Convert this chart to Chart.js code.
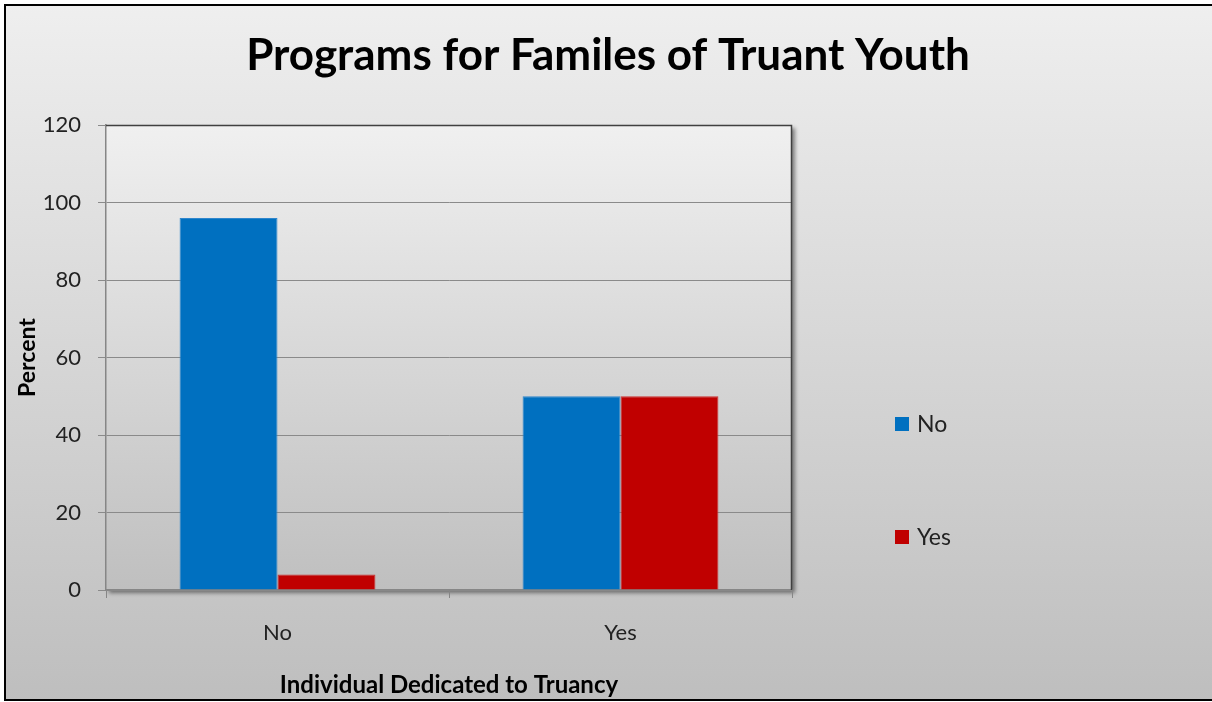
<!DOCTYPE html>
<html>
<head>
<meta charset="utf-8">
<script src="https://cdn.jsdelivr.net/npm/chart.js@4"></script>
<style>
  html, body { margin: 0; padding: 0; background: #fff; }
  #wrap { width: 1212px; height: 702px; }
</style>
</head>
<body>
<div id="wrap"><canvas id="myChart" width="1212" height="702"></canvas></div>
<script>
var categories = ['No', 'Yes'];
var seriesNames = ['No', 'Yes'];
var seriesNo = [96, 50];
var seriesYes = [4, 50];
var colors = ['#0070C0', '#C00000'];

var FONT = 'Lato, "Open Sans", sans-serif';

// background, frame, plot area fill + shadow, title and legend
var decor = {
    id: 'decor',
    beforeDraw: function (chart) {
        var c = chart.ctx;
        var a = chart.chartArea;
        c.save();
        var bg = c.createLinearGradient(0, 0, 0, chart.height);
        bg.addColorStop(0, '#efefef');
        bg.addColorStop(1, '#bebebe');
        c.fillStyle = bg;
        c.fillRect(5, 5, chart.width - 5, chart.height - 7);

        // plot area with soft shadow
        c.save();
        c.shadowColor = 'rgba(0,0,0,0.45)';
        c.shadowBlur = 4;
        c.shadowOffsetX = 3;
        c.shadowOffsetY = 3;
        var pg = c.createLinearGradient(0, a.top, 0, a.bottom);
        pg.addColorStop(0, '#f0f0f0');
        pg.addColorStop(1, '#bfbfbf');
        c.fillStyle = pg;
        c.fillRect(a.left, a.top, a.right - a.left, a.bottom - a.top);
        c.restore();

        // outer frame
        c.strokeStyle = '#000';
        c.lineWidth = 2;
        c.beginPath();
        c.moveTo(chart.width, 5);
        c.lineTo(5, 5);
        c.lineTo(5, chart.height - 2);
        c.lineTo(chart.width, chart.height - 2);
        c.stroke();

        // title
        c.fillStyle = '#000';
        c.font = 'bold 44px ' + FONT;
        c.textAlign = 'center';
        c.textBaseline = 'middle';
        c.fillText('Programs for Familes of Truant Youth', 608, 56);
        c.restore();
    },
    afterDatasetsDraw: function (chart) {
        var c = chart.ctx;
        var a = chart.chartArea;
        c.save();
        // dark plot border on top and right
        c.strokeStyle = '#404040';
        c.lineWidth = 1.5;
        c.beginPath();
        c.moveTo(a.left, a.top + 0.5);
        c.lineTo(a.right - 0.5, a.top + 0.5);
        c.lineTo(a.right - 0.5, a.bottom);
        c.stroke();

        // legend
        var ys = [424, 537];
        c.font = '23px ' + FONT;
        c.textBaseline = 'middle';
        c.textAlign = 'left';
        chart.data.datasets.forEach(function (ds, i) {
            c.fillStyle = ds.backgroundColor;
            c.fillRect(895, ys[i] - 7, 14, 14);
            c.fillStyle = '#222';
            c.fillText(ds.label, 917, ys[i] + 1);
        });
        c.restore();
    }
};

var ctx = document.getElementById('myChart').getContext('2d');
var myChart = new Chart(ctx, {
    type: 'bar',
    data: {
        labels: categories,
        datasets: [{
            label: seriesNames[0],
            data: seriesNo,
            backgroundColor: colors[0],
            borderColor: '#2f86cc',
            borderWidth: 1,
            categoryPercentage: 0.571,
            barPercentage: 1
        }, {
            label: seriesNames[1],
            data: seriesYes,
            backgroundColor: colors[1],
            borderColor: '#cc3030',
            borderWidth: 1,
            categoryPercentage: 0.571,
            barPercentage: 1
        }]
    },
    plugins: [decor],
    options: {
        responsive: false,
        animation: false,
        layout: { padding: { top: 125, right: 420, bottom: 0, left: 0 } },
        plugins: {
            legend: { display: false },
            title: { display: false },
            tooltip: { enabled: false }
        },
        scales: {
            x: {
                afterFit: function (s) { s.height = 112; },
                grid: {
                    offset: true,
                    drawOnChartArea: false,
                    drawTicks: true,
                    tickLength: 8,
                    color: '#868686'
                },
                border: { color: '#868686', width: 1.5 },
                ticks: {
                    padding: 22,
                    color: '#222',
                    font: { family: FONT, size: 22 }
                },
                title: {
                    display: true,
                    text: 'Individual Dedicated to Truancy',
                    color: '#000',
                    font: { family: FONT, size: 24, weight: 'bold' },
                    padding: { top: 0, bottom: 2 }
                }
            },
            y: {
                min: 0,
                max: 120,
                afterFit: function (s) { s.width = 106; },
                grid: {
                    color: '#8a8a8a',
                    tickLength: 8
                },
                border: { color: '#868686', width: 1.5 },
                ticks: {
                    stepSize: 20,
                    padding: 17,
                    color: '#222',
                    font: { family: FONT, size: 22 }
                },
                title: {
                    display: true,
                    text: 'Percent',
                    color: '#000',
                    font: { family: FONT, size: 23, weight: 'bold' },
                    padding: { top: 14, bottom: 0 }
                }
            }
        }
    }
});
</script>
</body>
</html>
